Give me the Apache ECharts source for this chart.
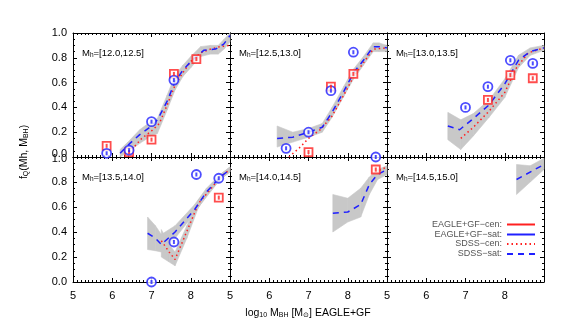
<!DOCTYPE html>
<html>
<head>
<meta charset="utf-8">
<script src="https://cdn.jsdelivr.net/npm/echarts@6/dist/echarts.min.js"></script>
<style>
  html, body { margin: 0; padding: 0; background: #fff; }
  #chart { width: 581px; height: 323px; }
</style>
</head>
<body>
<div id="chart"></div>
<script>
// halo mass bins, one per panel
const haloBins = ['[12.0,12.5]', '[12.5,13.0]', '[13.0,13.5]', '[13.5,14.0]', '[14.0,14.5]', '[14.5,15.0]']
const xTicks = [5, 6, 7, 8]
const yTicks = [0.0, 0.2, 0.4, 0.6, 0.8, 1.0]

// EAGLE+GF points: [log Mbh, fQ]
const p1Cen = [[5.857, 0.09], [6.429, 0.04], [7.0, 0.14], [7.571, 0.67], [8.143, 0.79]]
const p1Sat = [[5.857, 0.03], [6.429, 0.055], [7.0, 0.285], [7.571, 0.62]]
const p2Cen = [[7.0, 0.04], [7.571, 0.567], [8.143, 0.67]]
const p2Sat = [[6.429, 0.07], [7.0, 0.2], [7.571, 0.535], [8.143, 0.845]]
const p3Cen = [[7.571, 0.46], [8.143, 0.66], [8.714, 0.635]]
const p3Sat = [[7.0, 0.40], [7.571, 0.567], [8.143, 0.78], [8.714, 0.755]]
const p4Cen = [[8.714, 0.675]]
const p4Sat = [[7.0, 0.0], [7.571, 0.32], [8.143, 0.86], [8.714, 0.83]]
const p5Cen = [[8.714, 0.9]]
const p5Sat = [[8.714, 1.0]]
const p6Cen = []
const p6Sat = []

// SDSS curves
const s1Cen = [[6.5, 0.06], [6.75, 0.15], [7.0, 0.21], [7.2, 0.27], [7.4, 0.42], [7.6, 0.58], [7.8, 0.68], [8.0, 0.77], [8.25, 0.84], [8.5, 0.87], [8.75, 0.89], [9.0, 0.9]]
const s1Sat = [[6.2, 0.03], [6.45, 0.11], [6.7, 0.18], [7.0, 0.25], [7.15, 0.3], [7.4, 0.45], [7.6, 0.61], [7.8, 0.7], [8.0, 0.77], [8.33, 0.86], [8.63, 0.87], [8.84, 0.91], [9.0, 0.98]]
const s2Cen = [[6.5, 0.0], [6.79, 0.08], [7.0, 0.15], [7.3, 0.22], [7.6, 0.33], [7.9, 0.5], [8.15, 0.65], [8.4, 0.76], [8.65, 0.87], [9.0, 0.88]]
const s2Sat = [[6.2, 0.15], [6.6, 0.16], [7.0, 0.2], [7.35, 0.24], [7.6, 0.36], [7.9, 0.53], [8.15, 0.68], [8.4, 0.78], [8.65, 0.89], [8.8, 0.89], [9.0, 0.88]]
const s3Cen = [[6.88, 0.15], [7.2, 0.24], [7.6, 0.37], [8.0, 0.52], [8.3, 0.72], [8.6, 0.84], [9.0, 0.88]]
const s3Sat = [[6.55, 0.25], [6.85, 0.22], [7.2, 0.31], [7.6, 0.42], [8.0, 0.59], [8.35, 0.78], [8.65, 0.85], [9.0, 0.88]]
const s4Cen = [[7.25, 0.33], [7.45, 0.24], [7.6, 0.18], [8.2, 0.63], [8.5, 0.74], [8.75, 0.84], [9.0, 0.9]]
const s4Sat = [[6.9, 0.39], [7.1, 0.35], [7.25, 0.30], [7.6, 0.40], [8.1, 0.58], [8.4, 0.72], [8.75, 0.84], [9.0, 0.9]]
const s5Cen = [[8.7, 0.88], [9.0, 0.92]]
const s5Sat = [[7.62, 0.55], [8.0, 0.56], [8.33, 0.62], [8.55, 0.78], [8.76, 0.86], [9.0, 0.9]]
const s6Cen = []
const s6Sat = [[8.3, 0.82], [9.0, 0.94]]

// shaded bands: [x, low, high]
const b1 = [[6.2, 0.0, 0.06], [6.4, 0.04, 0.12], [6.7, 0.11, 0.22], [7.0, 0.17, 0.29], [7.15, 0.19, 0.31], [7.4, 0.38, 0.5], [7.6, 0.54, 0.66], [7.8, 0.65, 0.74], [8.0, 0.72, 0.81], [8.25, 0.81, 0.89], [8.5, 0.83, 0.9], [8.7, 0.83, 0.9], [8.85, 0.87, 0.95], [9.0, 0.93, 1.0]]
const b2 = [[6.2, 0.08, 0.25], [6.6, 0.12, 0.2], [7.0, 0.16, 0.23], [7.35, 0.2, 0.27], [7.6, 0.32, 0.4], [7.9, 0.49, 0.57], [8.15, 0.63, 0.71], [8.4, 0.74, 0.81], [8.65, 0.85, 0.92], [8.8, 0.85, 0.92], [9.0, 0.85, 0.9]]
const b3 = [[6.55, 0.14, 0.36], [6.88, 0.06, 0.3], [7.2, 0.17, 0.35], [7.6, 0.32, 0.46], [8.0, 0.48, 0.63], [8.35, 0.72, 0.82], [8.65, 0.82, 0.88], [9.0, 0.86, 0.9]]
const b4 = [[6.9, 0.26, 0.52], [7.1, 0.25, 0.45], [7.25, 0.24, 0.38], [7.6, 0.35, 0.45], [8.1, 0.55, 0.62], [8.4, 0.69, 0.75], [8.75, 0.82, 0.86], [9.0, 0.88, 0.92]]
const b4Cen = [[7.25, 0.2, 0.42], [7.45, 0.16, 0.3], [7.6, 0.13, 0.24], [7.9, 0.35, 0.45], [8.2, 0.6, 0.66], [8.5, 0.72, 0.76], [8.75, 0.82, 0.86], [9.0, 0.88, 0.92]]
const b5 = [[7.62, 0.40, 0.70], [8.0, 0.48, 0.67], [8.33, 0.52, 0.75], [8.55, 0.70, 0.84], [8.76, 0.82, 0.90], [9.0, 0.86, 0.93]]
const b6 = [[8.3, 0.70, 0.94], [8.65, 0.80, 0.93], [9.0, 0.90, 0.99]]

const legendNames = ['EAGLE+GF\u2212cen:', 'EAGLE+GF\u2212sat:', 'SDSS\u2212cen:', 'SDSS\u2212sat:']

const cenPts = [p1Cen, p2Cen, p3Cen, p4Cen, p5Cen, p6Cen]
const satPts = [p1Sat, p2Sat, p3Sat, p4Sat, p5Sat, p6Sat]
const cenLines = [s1Cen, s2Cen, s3Cen, s4Cen, s5Cen, s6Cen]
const satLines = [s1Sat, s2Sat, s3Sat, s4Sat, s5Sat, s6Sat]
const bands = [[b1], [b2], [b3], [b4, b4Cen], [b5], [b6]]

const FONT = '"Liberation Sans", Arial, sans-serif'
const RED = '#ff2020'
const BLUE = '#2020ff'
const GRAY = '#c8c8c8'

const lefts = [73, 230, 387]
const tops = [33, 157]
const heights = [124, 125]

let grids = [], xAxes = [], yAxes = [], series = [], graphics = []

const tickStyle = { color: '#000', width: 1 }

// split a band into quads between neighbouring points
function segments(b) {
  const out = []
  for (let k = 0; k < b.length - 1; k++) {
    out.push([b[k][0], b[k][1], b[k][2], b[k + 1][0], b[k + 1][1], b[k + 1][2]])
  }
  return out
}

function renderBand(params, api) {
  const pts = [
    api.coord([api.value(0), api.value(1)]),
    api.coord([api.value(3), api.value(4)]),
    api.coord([api.value(3), api.value(5)]),
    api.coord([api.value(0), api.value(2)])
  ]
  return {
    type: 'polygon', shape: { points: pts },
    style: { fill: GRAY, stroke: GRAY, lineWidth: 0.6 }
  }
}

for (let i = 0; i < 6; i++) {
  const col = i % 3, row = Math.floor(i / 3)
  grids.push({ left: lefts[col], top: tops[row], width: 157, height: heights[row] })

  const xBase = {
    type: 'value', gridIndex: i, min: 5, max: 9, interval: 1,
    axisLine: { onZero: false, lineStyle: tickStyle },
    axisTick: { inside: true, length: 4, lineStyle: tickStyle },
    minorTick: { show: true, splitNumber: 10, length: 2, lineStyle: tickStyle },
    splitLine: { show: false }
  }
  xAxes.push(Object.assign({}, xBase, {
    position: 'bottom',
    axisLabel: {
      show: row === 1, color: '#000', fontSize: 11, fontFamily: FONT, margin: 8,
      formatter: v => xTicks.includes(v) ? String(v) : ''
    }
  }))
  xAxes.push(Object.assign({}, xBase, { position: 'top', axisLabel: { show: false } }))

  const yBase = {
    type: 'value', gridIndex: i, min: 0, max: 1, interval: 0.2,
    axisLine: { onZero: false, lineStyle: tickStyle },
    axisTick: { inside: true, length: 4, lineStyle: tickStyle },
    minorTick: { show: true, splitNumber: 4, length: 2, lineStyle: tickStyle },
    splitLine: { show: false }
  }
  yAxes.push(Object.assign({}, yBase, {
    position: 'left',
    axisLabel: {
      show: col === 0, color: '#000', fontSize: 11, fontFamily: FONT, margin: 6,
      formatter: v => {
        const t = yTicks.find(y => Math.abs(y - v) < 1e-6)
        if (t === undefined) return ''
        const s = t.toFixed(1)
        if (row === 0 && t === 0) return '{up|' + s + '}'
        if (row === 1 && t === 1) return '{dn|' + s + '}'
        return s
      },
      rich: {
        up: { fontSize: 11, fontFamily: FONT, color: '#000', padding: [0, 0, 7, 0] },
        dn: { fontSize: 11, fontFamily: FONT, color: '#000', padding: [3, 0, 0, 0] }
      }
    }
  }))
  yAxes.push(Object.assign({}, yBase, { position: 'right', axisLabel: { show: false } }))

  const ax = { xAxisIndex: 2 * i, yAxisIndex: 2 * i }

  // shaded bands
  bands[i].forEach(b => {
    series.push(Object.assign({
      type: 'custom', data: segments(b), renderItem: renderBand,
      encode: { x: [0, 3], y: [1, 2, 4, 5] }, silent: true, z: 1
    }, ax))
  })

  series.push(Object.assign({
    type: 'line', name: legendNames[2], data: cenLines[i], symbol: 'none',
    lineStyle: { color: RED, width: 1.5, type: [1.5, 3] }, itemStyle: { color: RED, opacity: 0 }, z: 3
  }, ax))
  series.push(Object.assign({
    type: 'line', name: legendNames[3], data: satLines[i], symbol: 'none',
    lineStyle: { color: BLUE, width: 1.5, type: [6, 5] }, itemStyle: { color: BLUE, opacity: 0 }, z: 3
  }, ax))

  // EAGLE+GF markers
  series.push(Object.assign({
    type: 'scatter', data: cenPts[i], symbol: 'rect', symbolSize: 8,
    itemStyle: { color: '#fff', borderColor: RED, borderWidth: 1.8 }, z: 5
  }, ax))
  series.push(Object.assign({
    type: 'scatter', data: cenPts[i], symbol: 'rect', symbolSize: [2, 4],
    itemStyle: { color: RED }, z: 6
  }, ax))
  series.push(Object.assign({
    type: 'scatter', data: satPts[i], symbol: 'circle', symbolSize: 9,
    itemStyle: { color: '#fff', borderColor: BLUE, borderWidth: 1.8 }, z: 5
  }, ax))
  series.push(Object.assign({
    type: 'scatter', data: satPts[i], symbol: 'rect', symbolSize: [2, 4],
    itemStyle: { color: BLUE }, z: 6
  }, ax))

  graphics.push({
    type: 'text', left: lefts[col] + 9, top: tops[row] + 15, silent: true,
    style: {
      text: '{a|M}{s|h}{a|=' + haloBins[i] + '}',
      rich: {
        a: { fontSize: 9.5, fontFamily: FONT, fill: '#000' },
        s: { fontSize: 6.5, fontFamily: FONT, fill: '#000', padding: [5, 0, 0, 0] }
      }
    }
  })
}

// legend-only series for the EAGLE+GF lines
series.push({ type: 'line', name: legendNames[0], data: [], xAxisIndex: 0, yAxisIndex: 0, symbol: 'none', lineStyle: { color: RED, width: 2 }, itemStyle: { color: RED, opacity: 0 } })
series.push({ type: 'line', name: legendNames[1], data: [], xAxisIndex: 0, yAxisIndex: 0, symbol: 'none', lineStyle: { color: BLUE, width: 2 }, itemStyle: { color: BLUE, opacity: 0 } })

const legendTops = [220, 230, 239.5, 249.5]
const legends = legendNames.map((n, k) => ({
  data: [n], right: 45, top: legendTops[k], align: 'right', orient: 'horizontal',
  itemWidth: 28, itemHeight: 10, padding: 0, selectedMode: false,
  itemStyle: { opacity: 0 },
  textStyle: { color: '#555', fontSize: 9, fontFamily: FONT }
}))

graphics.push({
  type: 'text', x: 24, y: 152, rotation: Math.PI / 2, silent: true,
  style: {
    text: '{a|f}{s|Q}{a|(Mh, M}{s|BH}{a|)}', align: 'center', verticalAlign: 'middle',
    rich: {
      a: { fontSize: 10.5, fontFamily: FONT, fill: '#000' },
      s: { fontSize: 7, fontFamily: FONT, fill: '#000', padding: [5, 0, 0, 0] }
    }
  }
})
graphics.push({
  type: 'text', x: 308, y: 313, silent: true,
  style: {
    text: '{a|log}{s|10}{a| M}{s|BH}{a| [M}{s|\u2299}{a|] EAGLE+GF}', align: 'center', verticalAlign: 'middle',
    rich: {
      a: { fontSize: 10.5, fontFamily: FONT, fill: '#000' },
      s: { fontSize: 7, fontFamily: FONT, fill: '#000', padding: [5, 0, 0, 0] }
    }
  }
})

const chart = echarts.init(document.getElementById('chart'))
chart.setOption({
  animation: false,
  backgroundColor: '#fff',
  grid: grids,
  xAxis: xAxes,
  yAxis: yAxes,
  legend: legends,
  graphic: graphics,
  series: series
})
</script>
</body>
</html>
